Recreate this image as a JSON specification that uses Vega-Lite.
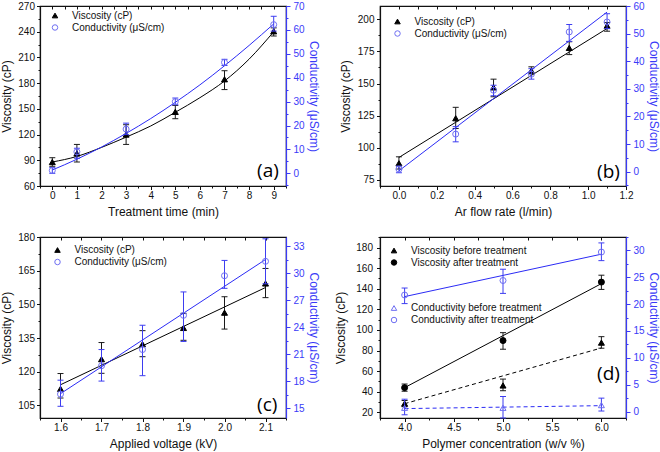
{
  "$schema": "https://vega.github.io/schema/vega-lite/v6.json",
  "padding": {"left": 0, "top": 0, "right": 0, "bottom": 0},
  "background": "white",
  "bounds": "flush",
  "columns": 2,
  "spacing": {"row": 51, "column": 94},
  "resolve": {"scale": {"shape": "independent", "fill": "independent", "stroke": "independent"}},
  "datasets": {
    "a_v": [
      {"x": 0, "y": 88, "lo": 83, "hi": 93, "series": "Viscosity (cP)"},
      {"x": 1, "y": 98, "lo": 88, "hi": 108.5, "series": "Viscosity (cP)"},
      {"x": 3, "y": 120, "lo": 108.5, "hi": 131.5, "series": "Viscosity (cP)"},
      {"x": 5, "y": 146.5, "lo": 138.5, "hi": 154, "series": "Viscosity (cP)"},
      {"x": 7, "y": 184.5, "lo": 172.5, "hi": 194.5, "series": "Viscosity (cP)"},
      {"x": 9, "y": 240.5, "lo": 235, "hi": 244.5, "series": "Viscosity (cP)"}
    ],
    "a_c": [
      {"x": 0, "y": 1.2, "lo": 0, "hi": 2.4, "series": "Conductivity (μS/cm)"},
      {"x": 1, "y": 9, "lo": 6.3, "hi": 10.5, "series": "Conductivity (μS/cm)"},
      {"x": 3, "y": 18.5, "lo": 16.2, "hi": 21, "series": "Conductivity (μS/cm)"},
      {"x": 5, "y": 30, "lo": 28.7, "hi": 31.5, "series": "Conductivity (μS/cm)"},
      {"x": 7, "y": 46.4, "lo": 45.1, "hi": 47.7, "series": "Conductivity (μS/cm)"},
      {"x": 9, "y": 62.2, "lo": 59.5, "hi": 65.7, "series": "Conductivity (μS/cm)"}
    ],
    "a_vf": [
      {"x": 0, "y": 88}, {"x": 1, "y": 94.5}, {"x": 2, "y": 105}, {"x": 3, "y": 117}, {"x": 4, "y": 130},
      {"x": 5, "y": 146}, {"x": 6, "y": 163}, {"x": 7, "y": 182.5}, {"x": 8, "y": 208}, {"x": 9, "y": 240}
    ],
    "a_cf": [
      {"x": 0, "y": 1.4}, {"x": 1, "y": 5.9}, {"x": 2, "y": 11}, {"x": 3, "y": 16.7}, {"x": 4, "y": 22.9},
      {"x": 5, "y": 29.7}, {"x": 6, "y": 37}, {"x": 7, "y": 45}, {"x": 8, "y": 53.5}, {"x": 9, "y": 62.5}
    ],
    "b_v": [
      {"x": 0, "y": 88, "lo": 83.5, "hi": 93, "series": "Viscosity (cP)"},
      {"x": 0.3, "y": 123, "lo": 115, "hi": 131.5, "series": "Viscosity (cP)"},
      {"x": 0.5, "y": 147, "lo": 139.7, "hi": 153.4, "series": "Viscosity (cP)"},
      {"x": 0.7, "y": 160, "lo": 157.5, "hi": 163, "series": "Viscosity (cP)"},
      {"x": 0.9, "y": 177.7, "lo": 172.5, "hi": 182.5, "series": "Viscosity (cP)"},
      {"x": 1.1, "y": 195, "lo": 190.7, "hi": 197.4, "series": "Viscosity (cP)"}
    ],
    "b_c": [
      {"x": 0, "y": 0.9, "lo": -0.4, "hi": 2, "series": "Conductivity (μS/cm)"},
      {"x": 0.3, "y": 13.6, "lo": 10.8, "hi": 16.3, "series": "Conductivity (μS/cm)"},
      {"x": 0.5, "y": 29.5, "lo": 27.5, "hi": 31.3, "series": "Conductivity (μS/cm)"},
      {"x": 0.7, "y": 35.3, "lo": 33.5, "hi": 37.3, "series": "Conductivity (μS/cm)"},
      {"x": 0.9, "y": 50.6, "lo": 47.2, "hi": 53.3, "series": "Conductivity (μS/cm)"},
      {"x": 1.1, "y": 54.2, "lo": 51.8, "hi": 57.2, "series": "Conductivity (μS/cm)"}
    ],
    "b_vf": [{"x": 0, "y": 92.5}, {"x": 1.1, "y": 192.8}],
    "b_cf": [{"x": 0, "y": 0.3}, {"x": 1.1, "y": 57.8}],
    "c_v": [
      {"x": 1.6, "y": 112.4, "lo": 108.3, "hi": 119.2, "series": "Viscosity (cP)"},
      {"x": 1.7, "y": 125.6, "lo": 119.3, "hi": 133, "series": "Viscosity (cP)"},
      {"x": 1.8, "y": 132.3, "lo": 126.7, "hi": 138.3, "series": "Viscosity (cP)"},
      {"x": 1.9, "y": 139.5, "lo": 134, "hi": 146, "series": "Viscosity (cP)"},
      {"x": 2.0, "y": 146.3, "lo": 139, "hi": 153.4, "series": "Viscosity (cP)"},
      {"x": 2.1, "y": 159.3, "lo": 153, "hi": 166, "series": "Viscosity (cP)"}
    ],
    "c_c": [
      {"x": 1.6, "y": 16.55, "lo": 15.2, "hi": 18.1, "series": "Conductivity (μS/cm)"},
      {"x": 1.7, "y": 19.7, "lo": 18, "hi": 21.5, "series": "Conductivity (μS/cm)"},
      {"x": 1.8, "y": 21.5, "lo": 18.6, "hi": 24.2, "series": "Conductivity (μS/cm)"},
      {"x": 1.9, "y": 25.3, "lo": 22.4, "hi": 27.9, "series": "Conductivity (μS/cm)"},
      {"x": 2.0, "y": 29.7, "lo": 28.3, "hi": 31.4, "series": "Conductivity (μS/cm)"},
      {"x": 2.1, "y": 31.3, "lo": 28.8, "hi": 33.8, "series": "Conductivity (μS/cm)"}
    ],
    "c_vf": [{"x": 1.6, "y": 114.2}, {"x": 2.1, "y": 157.5}],
    "c_cf": [{"x": 1.6, "y": 16.6}, {"x": 2.1, "y": 31.5}],
    "d_v": [
      {"x": 4, "y": 28.5, "lo": 25.5, "hi": 31.5, "series": "Viscosity before treatment"},
      {"x": 5, "y": 46.1, "lo": 41, "hi": 52.3, "series": "Viscosity before treatment"},
      {"x": 6, "y": 87.7, "lo": 82.3, "hi": 93.5, "series": "Viscosity before treatment"},
      {"x": 4, "y": 44, "lo": 40.5, "hi": 47.5, "series": "Viscosity after treatment"},
      {"x": 5, "y": 89.7, "lo": 81.3, "hi": 97.4, "series": "Viscosity after treatment"},
      {"x": 6, "y": 146.5, "lo": 139.4, "hi": 153.2, "series": "Viscosity after treatment"}
    ],
    "d_c": [
      {"x": 4, "y": 0.7, "lo": -0.6, "hi": 2.3, "series": "Conductivity before treatment"},
      {"x": 5, "y": 0.7, "lo": -1.2, "hi": 2.8, "series": "Conductivity before treatment"},
      {"x": 6, "y": 1.2, "lo": 0.1, "hi": 2.5, "series": "Conductivity before treatment"},
      {"x": 4, "y": 21.7, "lo": 20.1, "hi": 23, "series": "Conductivity after treatment"},
      {"x": 5, "y": 24.4, "lo": 22, "hi": 26.5, "series": "Conductivity after treatment"},
      {"x": 6, "y": 29.7, "lo": 28.1, "hi": 31.4, "series": "Conductivity after treatment"}
    ],
    "d_vf_before": [{"x": 4, "y": 28.4}, {"x": 6, "y": 82.5}],
    "d_vf_after": [{"x": 4, "y": 44}, {"x": 6, "y": 145}],
    "d_cf_before": [{"x": 4, "y": 0.55}, {"x": 6, "y": 1.1}],
    "d_cf_after": [{"x": 4, "y": 21.4}, {"x": 6, "y": 29.3}]
  },
  "concat": [
    {
      "width": 246, "height": 180,
      "resolve": {"scale": {"x": "independent", "y": "independent"}},
      "layer": [
        {
          "encoding": {"x": {"field": "x", "type": "quantitative", "scale": {"domain": [-0.5, 9.5], "nice": false, "zero": false},
            "axis": {"orient": "bottom", "title": "Treatment time (min)", "tickCount": 100, "labelOverlap": false, "values": [-0.5,0,0.5,1,1.5,2,2.5,3,3.5,4,4.5,5,5.5,6,6.5,7,7.5,8,8.5,9,9.5],
              "labelExpr": "datum.value % 1 === 0 ? format(datum.value, 'd') : ''",
              "tickSize": {"condition": {"test": "datum.value % 1 !== 0", "value": 2}, "value": 3.5}}}},
          "layer": [
            {"data": {"name": "a_vf"}, "mark": {"type": "line", "color": "black", "strokeWidth": 1, "interpolate": "monotone"},
              "encoding": {"y": {"field": "y", "type": "quantitative", "title": "Viscosity (cP)", "scale": {"domain": [60, 270], "nice": false, "zero": false},
                "axis": {"orient": "left", "tickCount": 100, "labelOverlap": false, "values": [60,75,90,105,120,135,150,165,180,195,210,225,240,255,270],
                  "labelExpr": "datum.value % 30 === 0 ? format(datum.value, 'd') : ''", "labelPadding": 2, "titlePadding": 4,
                  "tickSize": {"condition": {"test": "datum.value % 30 !== 0", "value": 2}, "value": 3.5}}}}},
            {"data": {"name": "a_v"}, "mark": {"type": "rule", "color": "#1a1a1a", "strokeWidth": 1},
              "encoding": {"y": {"field": "lo", "type": "quantitative", "title": "Viscosity (cP)"}, "y2": {"field": "hi"}}},
            {"data": {"name": "a_v"}, "mark": {"type": "tick", "orient": "horizontal", "size": 6, "thickness": 1, "color": "#1a1a1a", "opacity": 1},
              "encoding": {"y": {"field": "lo", "type": "quantitative", "title": "Viscosity (cP)"}}},
            {"data": {"name": "a_v"}, "mark": {"type": "tick", "orient": "horizontal", "size": 6, "thickness": 1, "color": "#1a1a1a", "opacity": 1},
              "encoding": {"y": {"field": "hi", "type": "quantitative", "title": "Viscosity (cP)"}}},
            {"data": {"name": "a_v"}, "mark": {"type": "point", "size": 36, "strokeWidth": 1, "opacity": 1},
              "encoding": {"y": {"field": "y", "type": "quantitative", "title": "Viscosity (cP)"},
                "shape": {"field": "series", "type": "nominal", "scale": {"domain": ["Viscosity (cP)", "Conductivity (μS/cm)"], "range": ["triangle-up", "circle"]}, "legend": {"orient": "none", "legendX": 10, "legendY": 4.5, "title": null, "labelOffset": 12}},
                "fill": {"field": "series", "type": "nominal", "scale": {"domain": ["Viscosity (cP)", "Conductivity (μS/cm)"], "range": ["black", "transparent"]}, "legend": {"orient": "none", "legendX": 10, "legendY": 4.5, "title": null, "labelOffset": 12}},
                "stroke": {"field": "series", "type": "nominal", "scale": {"domain": ["Viscosity (cP)", "Conductivity (μS/cm)"], "range": ["black", "#6f6ff2"]}, "legend": {"orient": "none", "legendX": 10, "legendY": 4.5, "title": null, "labelOffset": 12}}}}
          ]
        },
        {
          "encoding": {"x": {"field": "x", "type": "quantitative", "scale": {"domain": [-0.5, 9.5], "nice": false, "zero": false},
            "axis": {"orient": "top", "title": null, "labels": false, "domain": false, "offset": -3, "tickSize": 3, "tickCount": 100, "values": [-0.5,0,0.5,1,1.5,2,2.5,3,3.5,4,4.5,5,5.5,6,6.5,7,7.5,8,8.5,9,9.5]}}},
          "layer": [
            {"data": {"name": "a_cf"}, "mark": {"type": "line", "color": "#2b2bf5", "strokeWidth": 1, "interpolate": "monotone"},
              "encoding": {"y": {"field": "y", "type": "quantitative", "title": "Conductivity (μS/cm)", "scale": {"domain": [-5.3, 70], "nice": false, "zero": false},
                "axis": {"orient": "right", "tickCount": 100, "labelOverlap": false, "values": [-5,0,5,10,15,20,25,30,35,40,45,50,55,60,65,70],
                  "labelExpr": "datum.value % 10 === 0 ? format(datum.value, 'd') : ''",
                  "tickSize": {"condition": {"test": "datum.value % 10 !== 0", "value": 2}, "value": 4}}}}},
            {"data": {"name": "a_c"}, "mark": {"type": "rule", "color": "#3d3df0", "strokeWidth": 1},
              "encoding": {"y": {"field": "lo", "type": "quantitative", "title": "Conductivity (μS/cm)"}, "y2": {"field": "hi"}}},
            {"data": {"name": "a_c"}, "mark": {"type": "tick", "orient": "horizontal", "size": 6, "thickness": 1, "color": "#3d3df0", "opacity": 1},
              "encoding": {"y": {"field": "lo", "type": "quantitative", "title": "Conductivity (μS/cm)"}}},
            {"data": {"name": "a_c"}, "mark": {"type": "tick", "orient": "horizontal", "size": 6, "thickness": 1, "color": "#3d3df0", "opacity": 1},
              "encoding": {"y": {"field": "hi", "type": "quantitative", "title": "Conductivity (μS/cm)"}}},
            {"data": {"name": "a_c"}, "mark": {"type": "point", "size": 36, "strokeWidth": 1, "opacity": 1},
              "encoding": {"y": {"field": "y", "type": "quantitative", "title": "Conductivity (μS/cm)"},
                "shape": {"field": "series", "type": "nominal", "scale": {"domain": ["Viscosity (cP)", "Conductivity (μS/cm)"], "range": ["triangle-up", "circle"]}, "legend": {"orient": "none", "legendX": 10, "legendY": 4.5, "title": null, "labelOffset": 12}},
                "fill": {"field": "series", "type": "nominal", "scale": {"domain": ["Viscosity (cP)", "Conductivity (μS/cm)"], "range": ["black", "transparent"]}, "legend": {"orient": "none", "legendX": 10, "legendY": 4.5, "title": null, "labelOffset": 12}},
                "stroke": {"field": "series", "type": "nominal", "scale": {"domain": ["Viscosity (cP)", "Conductivity (μS/cm)"], "range": ["black", "#6f6ff2"]}, "legend": {"orient": "none", "legendX": 10, "legendY": 4.5, "title": null, "labelOffset": 12}}}}
          ]
        },
        {"data": {"values": [{"label": "(a)"}]}, "mark": {"type": "text", "align": "right", "baseline": "alphabetic", "font": "Open Sans", "fontSize": 19, "color": "black"},
          "encoding": {"x": {"datum": 9.21, "type": "quantitative", "scale": {"domain": [-0.5, 9.5], "nice": false, "zero": false}, "axis": null},
            "y": {"datum": 70, "type": "quantitative", "scale": {"domain": [60, 270], "nice": false, "zero": false}, "axis": null}, "text": {"field": "label"}}}
      ]
    },
    {
      "width": 246, "height": 180,
      "resolve": {"scale": {"x": "independent", "y": "independent"}},
      "layer": [
        {
          "encoding": {"x": {"field": "x", "type": "quantitative", "scale": {"domain": [-0.1, 1.2], "nice": false, "zero": false},
            "axis": {"orient": "bottom", "title": "Ar flow rate (l/min)", "tickCount": 100, "labelOverlap": false, "values": [-0.1,0,0.1,0.2,0.3,0.4,0.5,0.6,0.7,0.8,0.9,1,1.1,1.2],
              "labelExpr": "round(datum.value*10) % 2 === 0 ? format(datum.value, '.1f') : ''",
              "tickSize": {"condition": {"test": "round(datum.value*10) % 2 !== 0", "value": 2}, "value": 3.5}}}},
          "layer": [
            {"data": {"name": "b_vf"}, "mark": {"type": "line", "color": "black", "strokeWidth": 1},
              "encoding": {"y": {"field": "y", "type": "quantitative", "title": "Viscosity (cP)", "scale": {"domain": [70.3, 210.3], "nice": false, "zero": false},
                "axis": {"orient": "left", "tickCount": 100, "labelOverlap": false, "values": [75,87.5,100,112.5,125,137.5,150,162.5,175,187.5,200],
                  "labelExpr": "datum.value % 25 === 0 ? format(datum.value, 'd') : ''", "labelPadding": 2.5, "titlePadding": 5,
                  "tickSize": {"condition": {"test": "datum.value % 25 !== 0", "value": 2}, "value": 3.5}}}}},
            {"data": {"name": "b_v"}, "mark": {"type": "rule", "color": "#1a1a1a", "strokeWidth": 1},
              "encoding": {"y": {"field": "lo", "type": "quantitative", "title": "Viscosity (cP)"}, "y2": {"field": "hi"}}},
            {"data": {"name": "b_v"}, "mark": {"type": "tick", "orient": "horizontal", "size": 6, "thickness": 1, "color": "#1a1a1a", "opacity": 1},
              "encoding": {"y": {"field": "lo", "type": "quantitative", "title": "Viscosity (cP)"}}},
            {"data": {"name": "b_v"}, "mark": {"type": "tick", "orient": "horizontal", "size": 6, "thickness": 1, "color": "#1a1a1a", "opacity": 1},
              "encoding": {"y": {"field": "hi", "type": "quantitative", "title": "Viscosity (cP)"}}},
            {"data": {"name": "b_v"}, "mark": {"type": "point", "size": 36, "strokeWidth": 1, "opacity": 1},
              "encoding": {"y": {"field": "y", "type": "quantitative", "title": "Viscosity (cP)"},
                "shape": {"field": "series", "type": "nominal", "scale": {"domain": ["Viscosity (cP)", "Conductivity (μS/cm)"], "range": ["triangle-up", "circle"]}, "legend": {"orient": "none", "legendX": 12.5, "legendY": 10.5, "title": null, "labelOffset": 12}},
                "fill": {"field": "series", "type": "nominal", "scale": {"domain": ["Viscosity (cP)", "Conductivity (μS/cm)"], "range": ["black", "transparent"]}, "legend": {"orient": "none", "legendX": 12.5, "legendY": 10.5, "title": null, "labelOffset": 12}},
                "stroke": {"field": "series", "type": "nominal", "scale": {"domain": ["Viscosity (cP)", "Conductivity (μS/cm)"], "range": ["black", "#6f6ff2"]}, "legend": {"orient": "none", "legendX": 12.5, "legendY": 10.5, "title": null, "labelOffset": 12}}}}
          ]
        },
        {
          "encoding": {"x": {"field": "x", "type": "quantitative", "scale": {"domain": [-0.1, 1.2], "nice": false, "zero": false},
            "axis": {"orient": "top", "title": null, "labels": false, "domain": false, "offset": -3, "tickSize": 3, "tickCount": 100, "values": [-0.1,0,0.1,0.2,0.3,0.4,0.5,0.6,0.7,0.8,0.9,1,1.1,1.2]}}},
          "layer": [
            {"data": {"name": "b_cf"}, "mark": {"type": "line", "color": "#2b2bf5", "strokeWidth": 1},
              "encoding": {"y": {"field": "y", "type": "quantitative", "title": "Conductivity (μS/cm)", "scale": {"domain": [-5.2, 60], "nice": false, "zero": false},
                "axis": {"orient": "right", "tickCount": 100, "labelOverlap": false, "values": [-5,0,5,10,15,20,25,30,35,40,45,50,55,60],
                  "labelExpr": "datum.value % 10 === 0 ? format(datum.value, 'd') : ''",
                  "tickSize": {"condition": {"test": "datum.value % 10 !== 0", "value": 2}, "value": 4}}}}},
            {"data": {"name": "b_c"}, "mark": {"type": "rule", "color": "#3d3df0", "strokeWidth": 1},
              "encoding": {"y": {"field": "lo", "type": "quantitative", "title": "Conductivity (μS/cm)"}, "y2": {"field": "hi"}}},
            {"data": {"name": "b_c"}, "mark": {"type": "tick", "orient": "horizontal", "size": 6, "thickness": 1, "color": "#3d3df0", "opacity": 1},
              "encoding": {"y": {"field": "lo", "type": "quantitative", "title": "Conductivity (μS/cm)"}}},
            {"data": {"name": "b_c"}, "mark": {"type": "tick", "orient": "horizontal", "size": 6, "thickness": 1, "color": "#3d3df0", "opacity": 1},
              "encoding": {"y": {"field": "hi", "type": "quantitative", "title": "Conductivity (μS/cm)"}}},
            {"data": {"name": "b_c"}, "mark": {"type": "point", "size": 36, "strokeWidth": 1, "opacity": 1},
              "encoding": {"y": {"field": "y", "type": "quantitative", "title": "Conductivity (μS/cm)"},
                "shape": {"field": "series", "type": "nominal", "scale": {"domain": ["Viscosity (cP)", "Conductivity (μS/cm)"], "range": ["triangle-up", "circle"]}, "legend": {"orient": "none", "legendX": 12.5, "legendY": 10.5, "title": null, "labelOffset": 12}},
                "fill": {"field": "series", "type": "nominal", "scale": {"domain": ["Viscosity (cP)", "Conductivity (μS/cm)"], "range": ["black", "transparent"]}, "legend": {"orient": "none", "legendX": 12.5, "legendY": 10.5, "title": null, "labelOffset": 12}},
                "stroke": {"field": "series", "type": "nominal", "scale": {"domain": ["Viscosity (cP)", "Conductivity (μS/cm)"], "range": ["black", "#6f6ff2"]}, "legend": {"orient": "none", "legendX": 12.5, "legendY": 10.5, "title": null, "labelOffset": 12}}}}
          ]
        },
        {"data": {"values": [{"label": "(b)"}]}, "mark": {"type": "text", "align": "right", "baseline": "alphabetic", "font": "Open Sans", "fontSize": 19, "color": "black"},
          "encoding": {"x": {"datum": 1.168, "type": "quantitative", "scale": {"domain": [-0.1, 1.2], "nice": false, "zero": false}, "axis": null},
            "y": {"datum": 76.2, "type": "quantitative", "scale": {"domain": [70.3, 210.3], "nice": false, "zero": false}, "axis": null}, "text": {"field": "label"}}}
      ]
    },
    {
      "width": 246, "height": 181,
      "resolve": {"scale": {"x": "independent", "y": "independent"}},
      "layer": [
        {
          "encoding": {"x": {"field": "x", "type": "quantitative", "scale": {"domain": [1.55, 2.15], "nice": false, "zero": false},
            "axis": {"orient": "bottom", "title": "Applied voltage (kV)", "tickCount": 100, "labelOverlap": false, "values": [1.55,1.6,1.65,1.7,1.75,1.8,1.85,1.9,1.95,2,2.05,2.1,2.15],
              "labelExpr": "round(datum.value*20) % 2 === 0 ? format(datum.value, '.1f') : ''",
              "tickSize": {"condition": {"test": "round(datum.value*20) % 2 !== 0", "value": 2}, "value": 3.5}}}},
          "layer": [
            {"data": {"name": "c_vf"}, "mark": {"type": "line", "color": "black", "strokeWidth": 1},
              "encoding": {"y": {"field": "y", "type": "quantitative", "title": "Viscosity (cP)", "scale": {"domain": [99.4, 180], "nice": false, "zero": false},
                "axis": {"orient": "left", "tickCount": 100, "labelOverlap": false, "values": [105,112.5,120,127.5,135,142.5,150,157.5,165,172.5,180],
                  "labelExpr": "datum.value % 15 === 0 ? format(datum.value, 'd') : ''", "labelPadding": 2, "titlePadding": 4,
                  "tickSize": {"condition": {"test": "datum.value % 15 !== 0", "value": 2}, "value": 3.5}}}}},
            {"data": {"name": "c_v"}, "mark": {"type": "rule", "color": "#1a1a1a", "strokeWidth": 1},
              "encoding": {"y": {"field": "lo", "type": "quantitative", "title": "Viscosity (cP)"}, "y2": {"field": "hi"}}},
            {"data": {"name": "c_v"}, "mark": {"type": "tick", "orient": "horizontal", "size": 6, "thickness": 1, "color": "#1a1a1a", "opacity": 1},
              "encoding": {"y": {"field": "lo", "type": "quantitative", "title": "Viscosity (cP)"}}},
            {"data": {"name": "c_v"}, "mark": {"type": "tick", "orient": "horizontal", "size": 6, "thickness": 1, "color": "#1a1a1a", "opacity": 1},
              "encoding": {"y": {"field": "hi", "type": "quantitative", "title": "Viscosity (cP)"}}},
            {"data": {"name": "c_v"}, "mark": {"type": "point", "size": 36, "strokeWidth": 1, "opacity": 1},
              "encoding": {"y": {"field": "y", "type": "quantitative", "title": "Viscosity (cP)"},
                "shape": {"field": "series", "type": "nominal", "scale": {"domain": ["Viscosity (cP)", "Conductivity (μS/cm)"], "range": ["triangle-up", "circle"]}, "legend": {"orient": "none", "legendX": 12.5, "legendY": 8, "title": null, "labelOffset": 12}},
                "fill": {"field": "series", "type": "nominal", "scale": {"domain": ["Viscosity (cP)", "Conductivity (μS/cm)"], "range": ["black", "transparent"]}, "legend": {"orient": "none", "legendX": 12.5, "legendY": 8, "title": null, "labelOffset": 12}},
                "stroke": {"field": "series", "type": "nominal", "scale": {"domain": ["Viscosity (cP)", "Conductivity (μS/cm)"], "range": ["black", "#6f6ff2"]}, "legend": {"orient": "none", "legendX": 12.5, "legendY": 8, "title": null, "labelOffset": 12}}}}
          ]
        },
        {
          "encoding": {"x": {"field": "x", "type": "quantitative", "scale": {"domain": [1.55, 2.15], "nice": false, "zero": false},
            "axis": {"orient": "top", "title": null, "labels": false, "domain": false, "offset": -3, "tickSize": 3, "tickCount": 100, "values": [1.55,1.6,1.65,1.7,1.75,1.8,1.85,1.9,1.95,2,2.05,2.1,2.15]}}},
          "layer": [
            {"data": {"name": "c_cf"}, "mark": {"type": "line", "color": "#2b2bf5", "strokeWidth": 1},
              "encoding": {"y": {"field": "y", "type": "quantitative", "title": "Conductivity (μS/cm)", "scale": {"domain": [13.9, 34], "nice": false, "zero": false},
                "axis": {"orient": "right", "tickCount": 100, "labelOverlap": false, "values": [15,16.5,18,19.5,21,22.5,24,25.5,27,28.5,30,31.5,33],
                  "labelExpr": "round(datum.value*2) % 6 === 0 ? format(datum.value, 'd') : ''",
                  "tickSize": {"condition": {"test": "round(datum.value*2) % 6 !== 0", "value": 2}, "value": 4}}}}},
            {"data": {"name": "c_c"}, "mark": {"type": "rule", "color": "#3d3df0", "strokeWidth": 1},
              "encoding": {"y": {"field": "lo", "type": "quantitative", "title": "Conductivity (μS/cm)"}, "y2": {"field": "hi"}}},
            {"data": {"name": "c_c"}, "mark": {"type": "tick", "orient": "horizontal", "size": 6, "thickness": 1, "color": "#3d3df0", "opacity": 1},
              "encoding": {"y": {"field": "lo", "type": "quantitative", "title": "Conductivity (μS/cm)"}}},
            {"data": {"name": "c_c"}, "mark": {"type": "tick", "orient": "horizontal", "size": 6, "thickness": 1, "color": "#3d3df0", "opacity": 1},
              "encoding": {"y": {"field": "hi", "type": "quantitative", "title": "Conductivity (μS/cm)"}}},
            {"data": {"name": "c_c"}, "mark": {"type": "point", "size": 36, "strokeWidth": 1, "opacity": 1},
              "encoding": {"y": {"field": "y", "type": "quantitative", "title": "Conductivity (μS/cm)"},
                "shape": {"field": "series", "type": "nominal", "scale": {"domain": ["Viscosity (cP)", "Conductivity (μS/cm)"], "range": ["triangle-up", "circle"]}, "legend": {"orient": "none", "legendX": 12.5, "legendY": 8, "title": null, "labelOffset": 12}},
                "fill": {"field": "series", "type": "nominal", "scale": {"domain": ["Viscosity (cP)", "Conductivity (μS/cm)"], "range": ["black", "transparent"]}, "legend": {"orient": "none", "legendX": 12.5, "legendY": 8, "title": null, "labelOffset": 12}},
                "stroke": {"field": "series", "type": "nominal", "scale": {"domain": ["Viscosity (cP)", "Conductivity (μS/cm)"], "range": ["black", "#6f6ff2"]}, "legend": {"orient": "none", "legendX": 12.5, "legendY": 8, "title": null, "labelOffset": 12}}}}
          ]
        },
        {"data": {"values": [{"label": "(c)"}]}, "mark": {"type": "text", "align": "right", "baseline": "alphabetic", "font": "Open Sans", "fontSize": 19, "color": "black"},
          "encoding": {"x": {"datum": 2.129, "type": "quantitative", "scale": {"domain": [1.55, 2.15], "nice": false, "zero": false}, "axis": null},
            "y": {"datum": 102.6, "type": "quantitative", "scale": {"domain": [99.4, 180], "nice": false, "zero": false}, "axis": null}, "text": {"field": "label"}}}
      ]
    },
    {
      "width": 246, "height": 181,
      "resolve": {"scale": {"x": "independent", "y": "independent", "shape": "independent", "fill": "independent", "stroke": "independent"}},
      "layer": [
        {
          "encoding": {"x": {"field": "x", "type": "quantitative", "scale": {"domain": [3.75, 6.25], "nice": false, "zero": false},
            "axis": {"orient": "bottom", "title": "Polymer concentration (w/v %)", "tickCount": 100, "labelOverlap": false, "values": [3.75,4,4.25,4.5,4.75,5,5.25,5.5,5.75,6,6.25],
              "labelExpr": "round(datum.value*4) % 2 === 0 ? format(datum.value, '.1f') : ''",
              "tickSize": {"condition": {"test": "round(datum.value*4) % 2 !== 0", "value": 2}, "value": 3.5}}}},
          "layer": [
            {"data": {"name": "d_vf_after"}, "mark": {"type": "line", "color": "black", "strokeWidth": 1},
              "encoding": {"y": {"field": "y", "type": "quantitative", "title": "Viscosity (cP)", "scale": {"domain": [14.5, 190.3], "nice": false, "zero": false},
                "axis": {"orient": "left", "tickCount": 100, "labelOverlap": false, "values": [20,30,40,50,60,70,80,90,100,110,120,130,140,150,160,170,180,190],
                  "labelExpr": "datum.value % 20 === 0 ? format(datum.value, 'd') : ''", "labelPadding": 4, "titlePadding": 8,
                  "tickSize": {"condition": {"test": "datum.value % 20 !== 0", "value": 2}, "value": 3.5}}}}},
            {"data": {"name": "d_vf_before"}, "mark": {"type": "line", "color": "black", "strokeWidth": 1, "strokeDash": [4, 3]},
              "encoding": {"y": {"field": "y", "type": "quantitative", "title": "Viscosity (cP)"}}},
            {"data": {"name": "d_v"}, "mark": {"type": "rule", "color": "#1a1a1a", "strokeWidth": 1},
              "encoding": {"y": {"field": "lo", "type": "quantitative", "title": "Viscosity (cP)"}, "y2": {"field": "hi"}}},
            {"data": {"name": "d_v"}, "mark": {"type": "tick", "orient": "horizontal", "size": 6, "thickness": 1, "color": "#1a1a1a", "opacity": 1},
              "encoding": {"y": {"field": "lo", "type": "quantitative", "title": "Viscosity (cP)"}}},
            {"data": {"name": "d_v"}, "mark": {"type": "tick", "orient": "horizontal", "size": 6, "thickness": 1, "color": "#1a1a1a", "opacity": 1},
              "encoding": {"y": {"field": "hi", "type": "quantitative", "title": "Viscosity (cP)"}}},
            {"data": {"name": "d_v"}, "mark": {"type": "point", "size": 36, "strokeWidth": 1, "opacity": 1},
              "encoding": {"y": {"field": "y", "type": "quantitative", "title": "Viscosity (cP)"},
                "shape": {"field": "series", "type": "nominal", "scale": {"domain": ["Viscosity before treatment", "Viscosity after treatment"], "range": ["triangle-up", "circle"]}, "legend": {"orient": "none", "legendX": 9, "legendY": 8.5, "title": null, "labelOffset": 12}},
                "fill": {"field": "series", "type": "nominal", "scale": {"domain": ["Viscosity before treatment", "Viscosity after treatment"], "range": ["black", "black"]}, "legend": {"orient": "none", "legendX": 9, "legendY": 8.5, "title": null, "labelOffset": 12}},
                "stroke": {"field": "series", "type": "nominal", "scale": {"domain": ["Viscosity before treatment", "Viscosity after treatment"], "range": ["black", "black"]}, "legend": {"orient": "none", "legendX": 9, "legendY": 8.5, "title": null, "labelOffset": 12}}}}
          ]
        },
        {
          "encoding": {"x": {"field": "x", "type": "quantitative", "scale": {"domain": [3.75, 6.25], "nice": false, "zero": false},
            "axis": {"orient": "top", "title": null, "labels": false, "domain": false, "offset": -3, "tickSize": 3, "tickCount": 100, "values": [3.75,4,4.25,4.5,4.75,5,5.25,5.5,5.75,6,6.25]}}},
          "layer": [
            {"data": {"name": "d_cf_after"}, "mark": {"type": "line", "color": "#2b2bf5", "strokeWidth": 1},
              "encoding": {"y": {"field": "y", "type": "quantitative", "title": "Conductivity (μS/cm)", "scale": {"domain": [-1.2, 32.5], "nice": false, "zero": false},
                "axis": {"orient": "right", "tickCount": 100, "labelOverlap": false, "values": [0,2.5,5,7.5,10,12.5,15,17.5,20,22.5,25,27.5,30,32.5],
                  "labelExpr": "round(datum.value*2) % 10 === 0 ? format(datum.value, 'd') : ''",
                  "tickSize": {"condition": {"test": "round(datum.value*2) % 10 !== 0", "value": 2}, "value": 4}}}}},
            {"data": {"name": "d_cf_before"}, "mark": {"type": "line", "color": "#2b2bf5", "strokeWidth": 1, "strokeDash": [4, 3]},
              "encoding": {"y": {"field": "y", "type": "quantitative", "title": "Conductivity (μS/cm)"}}},
            {"data": {"name": "d_c"}, "mark": {"type": "rule", "color": "#3d3df0", "strokeWidth": 1},
              "encoding": {"y": {"field": "lo", "type": "quantitative", "title": "Conductivity (μS/cm)"}, "y2": {"field": "hi"}}},
            {"data": {"name": "d_c"}, "mark": {"type": "tick", "orient": "horizontal", "size": 6, "thickness": 1, "color": "#3d3df0", "opacity": 1},
              "encoding": {"y": {"field": "lo", "type": "quantitative", "title": "Conductivity (μS/cm)"}}},
            {"data": {"name": "d_c"}, "mark": {"type": "tick", "orient": "horizontal", "size": 6, "thickness": 1, "color": "#3d3df0", "opacity": 1},
              "encoding": {"y": {"field": "hi", "type": "quantitative", "title": "Conductivity (μS/cm)"}}},
            {"data": {"name": "d_c"}, "mark": {"type": "point", "size": 36, "strokeWidth": 1, "opacity": 1},
              "encoding": {"y": {"field": "y", "type": "quantitative", "title": "Conductivity (μS/cm)"},
                "shape": {"field": "series", "type": "nominal", "scale": {"domain": ["Conductivity before treatment", "Conductivity after treatment"], "range": ["triangle-up", "circle"]}, "legend": {"orient": "none", "legendX": 9, "legendY": 66, "title": null, "labelOffset": 12}},
                "fill": {"field": "series", "type": "nominal", "scale": {"domain": ["Conductivity before treatment", "Conductivity after treatment"], "range": ["transparent", "transparent"]}, "legend": {"orient": "none", "legendX": 9, "legendY": 66, "title": null, "labelOffset": 12}},
                "stroke": {"field": "series", "type": "nominal", "scale": {"domain": ["Conductivity before treatment", "Conductivity after treatment"], "range": ["#6f6ff2", "#6f6ff2"]}, "legend": {"orient": "none", "legendX": 9, "legendY": 66, "title": null, "labelOffset": 12}}}}
          ]
        },
        {"data": {"values": [{"label": "(d)"}]}, "mark": {"type": "text", "align": "right", "baseline": "alphabetic", "font": "Open Sans", "fontSize": 19, "color": "black"},
          "encoding": {"x": {"datum": 6.188, "type": "quantitative", "scale": {"domain": [3.75, 6.25], "nice": false, "zero": false}, "axis": null},
            "y": {"datum": 51, "type": "quantitative", "scale": {"domain": [14.5, 190.3], "nice": false, "zero": false}, "axis": null}, "text": {"field": "label"}}}
      ]
    }
  ],
  "config": {
    "view": {"stroke": "#111111", "strokeWidth": 1.2},
    "font": "Liberation Sans",
    "axis": {
      "labelFont": "Liberation Sans", "labelFontSize": 10, "labelColor": "#111111",
      "titleFont": "Liberation Sans", "titleFontSize": 12, "titleFontWeight": "normal", "titleColor": "#111111",
      "domainColor": "#111111", "domainWidth": 1.2, "tickColor": "#111111", "tickWidth": 1,
      "grid": false, "labelFlush": false, "labelOverlap": false, "labelPadding": 3, "titlePadding": 4
    },
    "axisBottom": {"labelPadding": 0.5, "titlePadding": 6.5},
    "axisRight": {
      "domainColor": "#3a3af7", "tickColor": "#3a3af7", "labelColor": "#3a3af7", "titleColor": "#3a3af7",
      "labelPadding": 3, "titlePadding": 2.5
    },
    "legend": {
      "labelFont": "Liberation Sans", "labelFontSize": 10, "labelColor": "#111111",
      "symbolSize": 30, "symbolStrokeWidth": 1, "rowPadding": 2, "padding": 0, "labelLimit": 200
    }
  }
}
